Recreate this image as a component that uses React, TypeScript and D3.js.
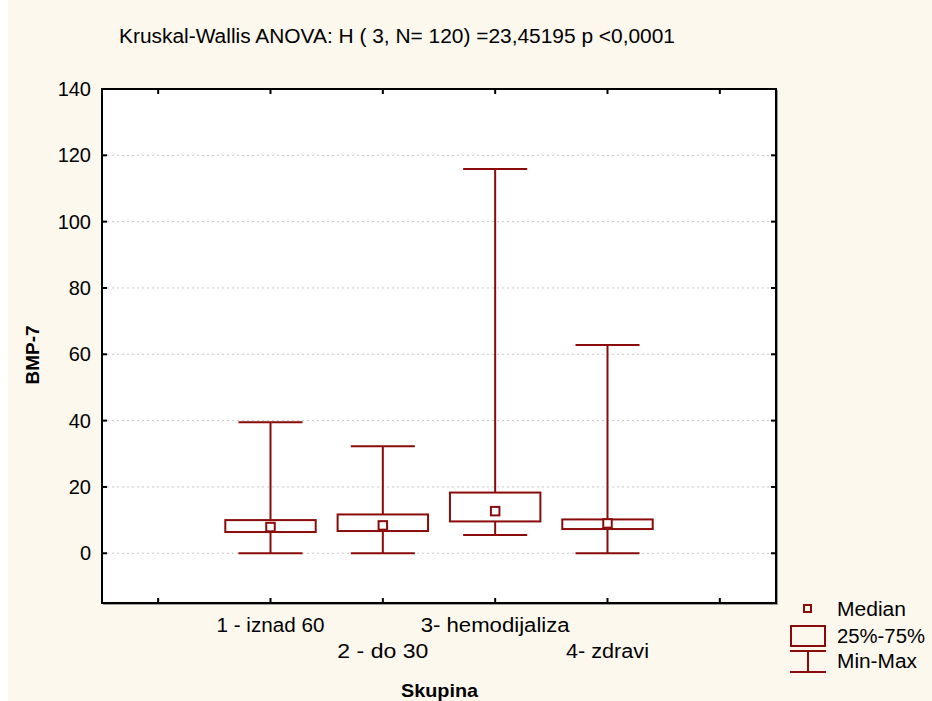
import React from "react";
import * as d3 from "d3";

const categories = ["1 - iznad 60", "2 - do 30", "3- hemodijaliza", "4- zdravi"];
const categoryWidths = [108, 91, 149, 83];
const minValues = [0, 0, 5.5, 0];
const q1Values = [6.4, 6.7, 9.6, 7.3];
const medianValues = [7.9, 8.4, 12.7, 9.0];
const q3Values = [10.0, 11.7, 18.3, 10.2];
const maxValues = [39.5, 32.3, 115.9, 62.8];
const yTicks = [0, 20, 40, 60, 80, 100, 120, 140];
const xTicks = [0.5, 1.5, 2.5, 3.5, 4.5, 5.5];

const W = 932;
const H = 701;
const RED = "#8b0a0a";
const FONT = "Arial, 'Liberation Sans', sans-serif";

export default function App() {
  const left = 102, right = 776, top = 89, bottom = 603;
  const x = d3.scaleLinear().domain([0, 6]).range([left, right]);
  const y = d3.scaleLinear().domain([-15, 140]).range([bottom, top]);
  const band = x(1) - x(0);
  const boxW = band * 0.805;
  const capW = band * 0.57;
  const med = 8.5;

  return (
    <svg width={W} height={H} style={{ position: "absolute", left: 0, top: 0 }} fontFamily={FONT}>
      <rect x={0} y={0} width={W} height={H} fill="#ffffff" />
      <rect x={8} y={0} width={W - 8} height={H} fill="#fdf8ee" />
      <text x={119} y={43} fontSize={19.5} fill="#000" textLength={556} lengthAdjust="spacingAndGlyphs">
        Kruskal-Wallis ANOVA: H ( 3, N= 120) =23,45195 p &lt;0,0001
      </text>
      <rect x={left} y={top} width={right - left} height={bottom - top} fill="#ffffff" />
      {yTicks.slice(0, -1).map((t) => (
        <line key={"g" + t} x1={left} x2={right} y1={y(t)} y2={y(t)} stroke="#c8c8c8" strokeWidth={1} strokeDasharray="2,3" />
      ))}
      {categories.map((c, i) => {
        const cx = x(i + 1.5);
        return (
          <g key={c} stroke={RED} strokeWidth={2} fill="none">
            <line x1={cx} x2={cx} y1={y(maxValues[i])} y2={y(q3Values[i])} />
            <line x1={cx} x2={cx} y1={y(q1Values[i])} y2={y(minValues[i])} />
            <line x1={cx - capW / 2} x2={cx + capW / 2} y1={y(maxValues[i])} y2={y(maxValues[i])} />
            <line x1={cx - capW / 2} x2={cx + capW / 2} y1={y(minValues[i])} y2={y(minValues[i])} />
            <rect x={cx - boxW / 2} y={y(q3Values[i])} width={boxW} height={y(q1Values[i]) - y(q3Values[i])} fill="#ffffff" />
            <rect x={cx - med / 2} y={y(medianValues[i]) - med / 2} width={med} height={med} fill="#ffffff" />
          </g>
        );
      })}
      {/* frame */}
      <line x1={right + 1.5} x2={right + 1.5} y1={top + 1} y2={bottom + 2} stroke="#9a9a9a" strokeWidth={1} />
      <line x1={left + 1} x2={right + 2} y1={bottom + 1.5} y2={bottom + 1.5} stroke="#9a9a9a" strokeWidth={1} />
      <rect x={left} y={top} width={right - left} height={bottom - top} fill="none" stroke="#000" strokeWidth={2} />
      {yTicks.map((t) => (
        <g key={"yt" + t}>
          <line x1={left} x2={left + 5} y1={y(t)} y2={y(t)} stroke="#000" strokeWidth={2} />
          <line x1={right - 5} x2={right} y1={y(t)} y2={y(t)} stroke="#000" strokeWidth={2} />
          <text x={91} y={y(t) + 7} fontSize={20} textAnchor="end" fill="#000">{t}</text>
        </g>
      ))}
      {xTicks.map((t) => (
        <g key={"xt" + t}>
          <line x1={x(t)} x2={x(t)} y1={top} y2={top + 5} stroke="#000" strokeWidth={2} />
          <line x1={x(t)} x2={x(t)} y1={bottom - 5} y2={bottom} stroke="#000" strokeWidth={2} />
        </g>
      ))}
      {categories.map((c, i) => (
        <text key={"cl" + c} x={x(i + 1.5) - categoryWidths[i] / 2} y={i % 2 === 0 ? 632 : 658} fontSize={19.5} fill="#000"
          textLength={categoryWidths[i]} lengthAdjust="spacingAndGlyphs">
          {c}
        </text>
      ))}
      <text x={401} y={697} fontSize={19} fontWeight="bold" fill="#000" textLength={77} lengthAdjust="spacingAndGlyphs">Skupina</text>
      <text transform={`translate(39,355) rotate(-90)`} fontSize={19} fontWeight="bold" textAnchor="middle" fill="#000">BMP-7</text>
      {/* legend */}
      <g stroke={RED} strokeWidth={2} fill="none">
        <rect x={804} y={605} width={7} height={7} />
        <rect x={791} y={626} width={34} height={20} />
        <line x1={790} x2={826} y1={651} y2={651} />
        <line x1={790} x2={826} y1={672} y2={672} />
        <line x1={808} x2={808} y1={651} y2={672} />
      </g>
      <text x={837} y={616} fontSize={19.5} fill="#000" textLength={69} lengthAdjust="spacingAndGlyphs">Median</text>
      <text x={837} y={643} fontSize={19.5} fill="#000" textLength={88} lengthAdjust="spacingAndGlyphs">25%-75%</text>
      <text x={837} y={668} fontSize={19.5} fill="#000" textLength={80} lengthAdjust="spacingAndGlyphs">Min-Max</text>
    </svg>
  );
}
